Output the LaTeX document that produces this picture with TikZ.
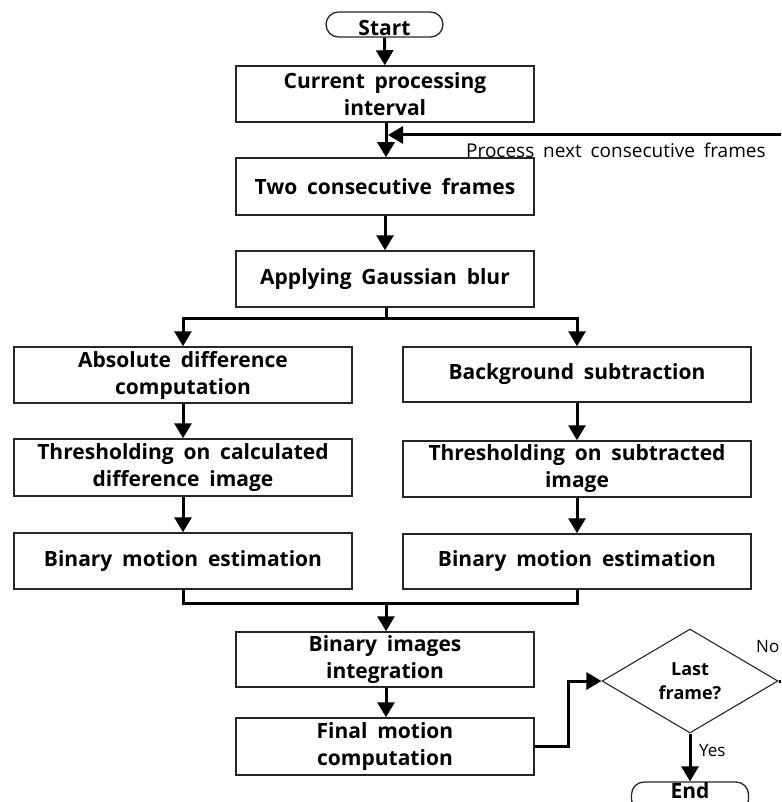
\documentclass[tikz,border=0pt]{standalone}
\usepackage{fontspec}
\setmainfont[WordSpace=1.8]{Open Sans}
\usetikzlibrary{arrows.meta,shapes.geometric}
\begin{document}
\begin{tikzpicture}[x=1pt,y=-1pt,
  box/.style={draw=black!85,line width=1.5pt,rectangle,inner sep=0pt,align=center,
    font=\bfseries\fontsize{21}{27}\selectfont},
  term/.style={draw=black!85,line width=1.3pt,rectangle,rounded corners=12.5pt,inner sep=0pt,
    minimum width=117pt,minimum height=25pt,font=\bfseries\fontsize{21}{24}\selectfont},
  conn/.style={line width=3pt,black},
  arr/.style={conn,-{Triangle[width=17pt,length=15pt]}},
  lab/.style={font=\fontsize{19}{22}\selectfont,inner sep=0pt}]
\useasboundingbox (0,0) rectangle (781,802);
\clip (0,0) rectangle (781,802);
\node[term,text height=23pt,text depth=0pt] (start) at (384.5,24.5) {Start};
\node[box,minimum width=298pt,minimum height=56pt] (cpi) at (385,94) {Current processing\\interval};
\node[box,minimum width=298pt,minimum height=57pt] (tcf) at (385,186.5) {Two consecutive frames};
\node[box,minimum width=298pt,minimum height=56pt] (gau) at (385,279) {Applying Gaussian blur};
\node[box,minimum width=338pt,minimum height=56pt] (absd) at (183,375) {Absolute difference\\computation};
\node[box,minimum width=338pt,minimum height=57pt] (thl) at (183,467.5) {Thresholding on calculated\\difference image};
\node[box,minimum width=338pt,minimum height=56pt] (bml) at (183,561) {Binary motion estimation};
\node[box,minimum width=348pt,minimum height=55pt] (bgs) at (577,374.5) {Background subtraction};
\node[box,minimum width=348pt,minimum height=56pt] (thr) at (577,469) {Thresholding on subtracted\\image};
\node[box,minimum width=348pt,minimum height=55pt] (bmr) at (577,561.5) {Binary motion estimation};
\node[box,minimum width=298pt,minimum height=55pt] (bii) at (385,659.5) {Binary images\\integration};
\node[box,minimum width=298pt,minimum height=57pt] (fmc) at (385,746.5) {Final motion\\computation};
\node[diamond,draw=black!85,line width=1.1pt,inner sep=0pt,minimum width=176pt,minimum height=104pt,
  align=center,font=\bfseries\fontsize{18}{24}\selectfont] (dec) at (690,681) {Last\\frame?};
\node[term,minimum height=30pt,text height=10pt,text depth=8pt] (end) at (690,797) {End};
\node[lab,anchor=west] (proc) at (466,150) {Process next consecutive frames};
\node[lab,anchor=west,font=\fontsize{17}{20}\selectfont] (no) at (756,647) {No};
\node[lab,anchor=west,font=\fontsize{17}{20}\selectfont] (yes) at (699,751) {Yes};
\coordinate (join) at (386,135);
\coordinate (split) at (386,318);
\coordinate (mrg) at (386,603);
\draw[arr] (start) -- (cpi);
\draw[arr] (cpi.south -| join) -- (tcf.north -| join);
\draw[arr] (tcf) -- (gau);
\draw[conn] (gau.south -| split) -- (split);
\draw[arr] (split) -| (absd.north);
\draw[arr] (split) -| (bgs.north);
\draw[arr] (absd) -- (thl);
\draw[arr] (thl) -- (bml);
\draw[arr] (bgs) -- (thr);
\draw[arr] (thr) -- (bmr);
\draw[conn] (bml.south) |- (mrg) -| (bmr.south);
\draw[arr] (mrg) -- (bii.north -| mrg);
\draw[arr] (bii.south -| mrg) -- (fmc.north -| mrg);
\draw[arr] (fmc.east) -- ++(34,0) |- (dec.west);
\draw[arr] (dec.south) -- (end.north);
\draw[arr] (dec.east) -- ++(30,0) |- ([xshift=2pt]join);
\end{tikzpicture}
\end{document}
